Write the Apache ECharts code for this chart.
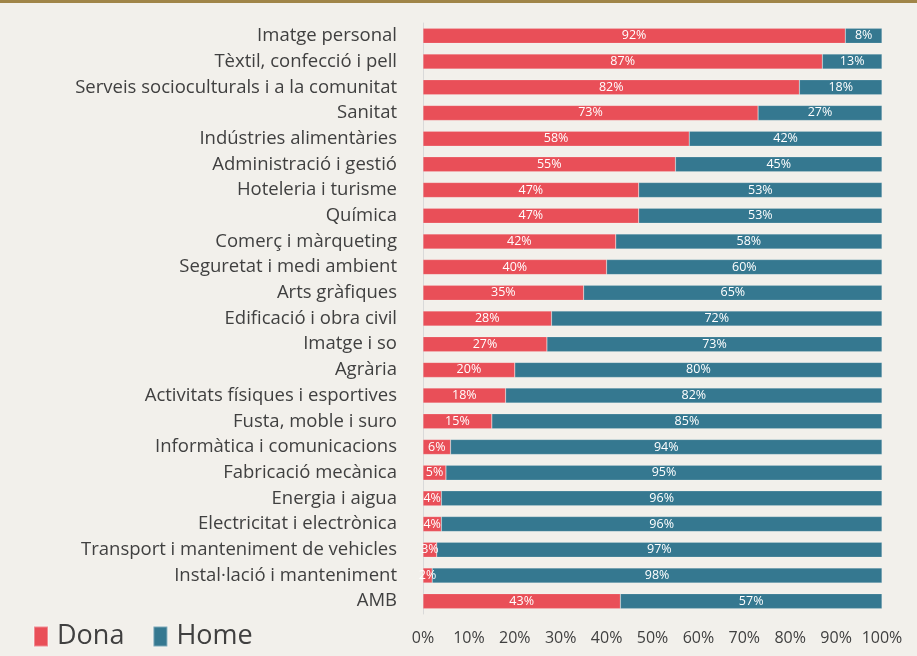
<!DOCTYPE html>
<html>
<head>
<meta charset="utf-8">
<style>
  html, body { margin: 0; padding: 0; background: #f2f0eb; }
  #chart { width: 917px; height: 656px; }
</style>
<script src="https://cdn.jsdelivr.net/npm/echarts@6/dist/echarts.min.js"></script>
</head>
<body>
<div id="chart"></div>
<script>
var categories = [
  "Imatge personal", "Tèxtil, confecció i pell", "Serveis socioculturals i a la comunitat",
  "Sanitat", "Indústries alimentàries", "Administració i gestió", "Hoteleria i turisme",
  "Química", "Comerç i màrqueting", "Seguretat i medi ambient", "Arts gràfiques",
  "Edificació i obra civil", "Imatge i so", "Agrària", "Activitats físiques i esportives",
  "Fusta, moble i suro", "Informàtica i comunicacions", "Fabricació mecànica",
  "Energia i aigua", "Electricitat i electrònica", "Transport i manteniment de vehicles",
  "Instal·lació i manteniment", "AMB"
];
var dona = [92, 87, 82, 73, 58, 55, 47, 47, 42, 40, 35, 28, 27, 20, 18, 15, 6, 5, 4, 4, 3, 2, 43];
var home = [8, 13, 18, 27, 42, 45, 53, 53, 58, 60, 65, 72, 73, 80, 82, 85, 94, 95, 96, 96, 97, 98, 57];
var xTicks = [0, 10, 20, 30, 40, 50, 60, 70, 80, 90, 100];

var myChart = echarts.init(document.getElementById("chart"));
var font = "Open Sans";
var barLabel = {
  show: true,
  position: "inside",
  color: "#ffffff",
  fontFamily: font,
  fontSize: 12.5,
  formatter: "{c}%"
};

var option = {
  backgroundColor: "#f2f0eb",
  animation: false,
  graphic: [
    { type: "rect", left: 0, top: 0, shape: { width: 917, height: 3 }, style: { fill: "#a08548" } }
  ],
  legend: {
    data: ["Dona", "Home"],
    left: 28,
    top: 618,
    icon: "rect",
    itemWidth: 14,
    itemHeight: 20,
    itemGap: 28,
    textStyle: { color: "#404040", fontSize: 27, fontFamily: font, padding: [0, 0, 0, 4] }
  },
  grid: { left: 423, right: 35, top: 23, bottom: 42 },
  xAxis: {
    type: "value",
    min: 0,
    max: 100,
    interval: 10,
    axisLine: { show: false },
    axisTick: { show: false },
    splitLine: { show: false },
    axisLabel: {
      color: "#404040",
      fontSize: 16,
      fontFamily: font,
      margin: 16,
      formatter: function (v) { return xTicks.indexOf(v) >= 0 ? v + "%" : ""; }
    }
  },
  yAxis: {
    type: "category",
    data: categories,
    inverse: true,
    axisLine: { show: true, lineStyle: { color: "#d9d9d9", width: 1 } },
    axisTick: { show: false },
    axisLabel: { color: "#404040", fontSize: 18.5, fontFamily: font, margin: 26 }
  },
  series: [
    {
      name: "Dona",
      type: "bar",
      stack: "total",
      barWidth: 15,
      itemStyle: { color: "#e94f58", borderColor: "rgba(255,255,255,0.35)", borderWidth: 0.5 },
      label: barLabel,
      data: dona
    },
    {
      name: "Home",
      type: "bar",
      stack: "total",
      barWidth: 15,
      itemStyle: { color: "#357890", borderColor: "rgba(255,255,255,0.35)", borderWidth: 0.5 },
      label: barLabel,
      data: home
    }
  ]
};
myChart.setOption(option);
</script>
</body>
</html>
